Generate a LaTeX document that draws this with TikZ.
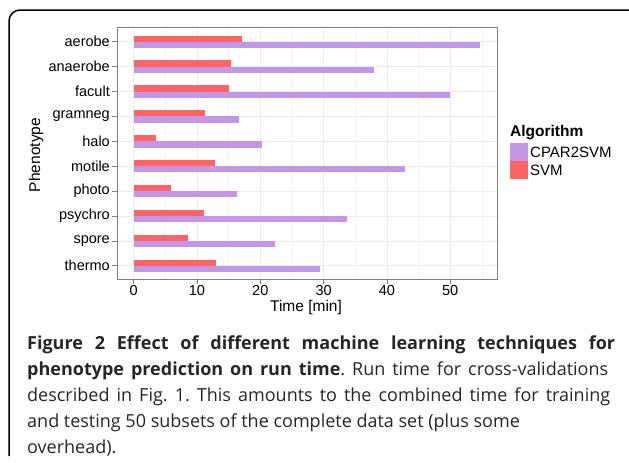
\documentclass[tikz,border=0pt]{standalone}
\usepackage{fontspec}
\setmainfont{Liberation Sans}
\newfontfamily\capfont{Open Sans}
\usetikzlibrary{positioning}
\definecolor{svmred}{HTML}{FF6464}
\definecolor{cparpurple}{HTML}{C396E8}
\definecolor{gridgray}{HTML}{EBEBEB}
\definecolor{tickgray}{HTML}{7F7F7F}
\frenchspacing

\begin{document}
\begin{tikzpicture}[x=1pt, y=-1pt, every node/.style={inner sep=0pt},
  ticklab/.style={font=\fontsize{14.5}{16}\selectfont, text=black},
  axtitle/.style={font=\fontsize{15.5}{17}\selectfont},
  capline/.style={anchor=base west, font=\capfont\fontsize{18}{22}\selectfont, text=black!85}]
  \useasboundingbox (0,0) rectangle (629,463);
  % outer frame
  \draw[line width=1.5pt, rounded corners=11pt] (9,456) -- (9,10) -- (640,10) -- (640,456);
  % panel and grid
  \foreach \v in {5,15,...,55}
    \draw[gridgray!60, line width=0.4pt] ({133.7+6.33*\v},27) -- ({133.7+6.33*\v},279);
  \foreach \v in {0,10,...,50} {
    \draw[gridgray, line width=0.8pt] ({133.7+6.33*\v},27) -- ({133.7+6.33*\v},279);
    \draw[tickgray, line width=0.7pt] ({133.7+6.33*\v},279) -- ({133.7+6.33*\v},284);
    \node[ticklab] (xt\v) at ({133.7+6.33*\v},291) {\v};
  }
  \foreach \name/\svm/\cpar [count=\i] in {aerobe/17.1/54.7, anaerobe/15.4/38.0,
      facult/15.0/49.9, gramneg/11.2/16.6, halo/3.6/20.2, motile/12.9/42.9,
      photo/5.9/16.3, psychro/11.1/33.7, spore/8.6/22.3, thermo/13.0/29.4} {
    \pgfmathsetmacro{\yc}{41.7+24.9*(\i-1)}
    \draw[gridgray, line width=0.8pt] (117,\yc) -- (497,\yc);
    \fill[svmred] (133.7,{\yc-6.2}) rectangle ({133.7+6.33*\svm},\yc);
    \fill[cparpurple] (133.7,\yc) rectangle ({133.7+6.33*\cpar},{\yc+6.2});
    \draw[tickgray, line width=0.7pt] (112,\yc) -- (117,\yc);
    \node[ticklab, anchor=east] (yt\i) at (110,\yc) {\name};
  }
  \draw[tickgray, line width=0.7pt] (117,27) rectangle (497,279);
  % axis titles
  \node[axtitle] (xtitle) at (306,307) {Time [min]};
  \node[axtitle, rotate=90] (ytitle) at (36,155) {Phenotype};
  % legend
  \node[font=\bfseries\fontsize{15.5}{17}\selectfont, anchor=west] (legtitle) at (510,133) {Algorithm};
  \fill[cparpurple] (510,143) rectangle (528,161);
  \fill[svmred] (510,161) rectangle (528,179);
  \node[font=\fontsize{15}{17}\selectfont, anchor=west] (legcpar) at (530,152) {CPAR2SVM};
  \node[font=\fontsize{15}{17}\selectfont, anchor=west] (legsvm) at (530,170) {SVM};
  % caption
  \node[capline] (cap1) at (27,349) {\makebox[588pt][s]{\bfseries Figure 2 Effect of different machine learning techniques for}};
  \node[capline] (cap2) at (27,375) {\makebox[581pt][s]{\textbf{phenotype prediction on run time}. Run time for cross-validations}};
  \node[capline] (cap3) at (27,401) {\makebox[583pt][s]{described in Fig. 1. This amounts to the combined time for training}};
  \node[capline] (cap4) at (27,427) {and testing 50 subsets of the complete data set (plus some};
  \node[capline] (cap5) at (27,453) {overhead).};
\end{tikzpicture}
\end{document}
